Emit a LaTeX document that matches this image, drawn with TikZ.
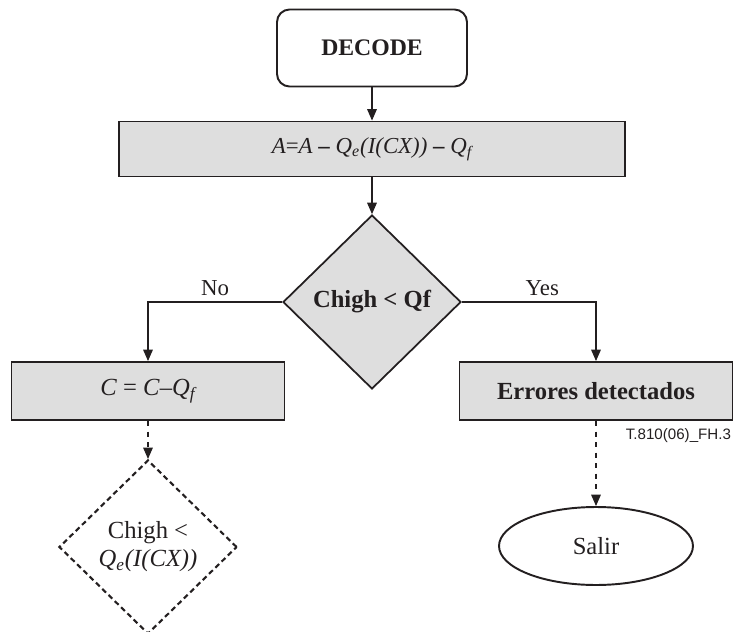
\documentclass[tikz,border=0pt]{standalone}
\usepackage{fontspec}
\setmainfont{Liberation Serif}
\setsansfont{Liberation Sans}
\usetikzlibrary{shapes.geometric}
\usetikzlibrary{positioning}
\usetikzlibrary{arrows.meta}
\usepackage{xcolor}
\definecolor{boxgray}{HTML}{DEDEDE}
\definecolor{ink}{HTML}{231F20}

\begin{document}
\begin{tikzpicture}[x=0.02cm, y=-0.02cm,
    every node/.style={text=ink},
    flowbox/.style={draw=ink, line width=1.1pt, rectangle, fill=boxgray, minimum height=1.16cm},
    decision/.style={draw=ink, line width=1pt, diamond, inner sep=0pt, minimum width=3.56cm, minimum height=3.48cm},
    link/.style={draw=ink, line width=0.6pt, -{Triangle[length=6.5pt,width=5.5pt]}}]
            \useasboundingbox (0,0) rectangle (734,632);
            \node[draw=ink, line width=1.1pt, rectangle, rounded corners=0.25cm, minimum width=3.8cm, minimum height=1.54cm, font=\fontsize{13.5}{15}\selectfont\bfseries] (decode) at (372,48) {DECODE};
            \node[flowbox, minimum width=10.14cm, minimum height=1.1cm, font=\fontsize{13}{15}\selectfont] (update) at (372,149) {\textit{A}=\textit{A} \textbf{–} \textit{Q\textsubscript{e}(I(CX))} \textbf{–} \textit{Q\textsubscript{f}}};
            \node[decision, fill=boxgray, font=\fontsize{14}{16}\selectfont\bfseries] (check) at (372,302) {Chigh < Qf};
            \node[flowbox, minimum width=5.46cm, font=\fontsize{14}{16}\selectfont] (cupd) at (148,391) {\textit{C} = \textit{C}–\textit{Q\textsubscript{f}}};
            \node[flowbox, minimum width=5.46cm, font=\fontsize{14}{16}\selectfont\bfseries] (errors) at (596,391) {Errores detectados};
            \node[decision, line width=1.2pt, dash pattern=on 3pt off 2pt, align=center, font=\fontsize{14}{16}\selectfont] (check2) at (148,547) {Chigh <\\\textit{Q\textsubscript{e}(I(CX))}};
            \node[draw=ink, line width=1.1pt, ellipse, minimum width=3.88cm, minimum height=1.56cm, font=\fontsize{14}{16}\selectfont] (salir) at (596,546) {Salir};
            \node[anchor=east, inner sep=1pt, font=\sffamily\fontsize{8.6}{10}\selectfont] (tag) at (733,436) {T.810(06)\_FH.3};

            \draw[link] (decode) -- (update);
            \draw[link] (update) -- (check);
            \draw[link] (check.west) -| node[pos=0.25, above, font=\fontsize{13}{15}\selectfont] {No} (cupd.north);
            \draw[link] (check.east) -| node[pos=0.3, above, font=\fontsize{13}{15}\selectfont] {Yes} (errors.north);
            \draw[link, dashed] (cupd) -- (check2);
            \draw[link, dashed] (errors) -- (salir);
        \end{tikzpicture}
\end{document}
